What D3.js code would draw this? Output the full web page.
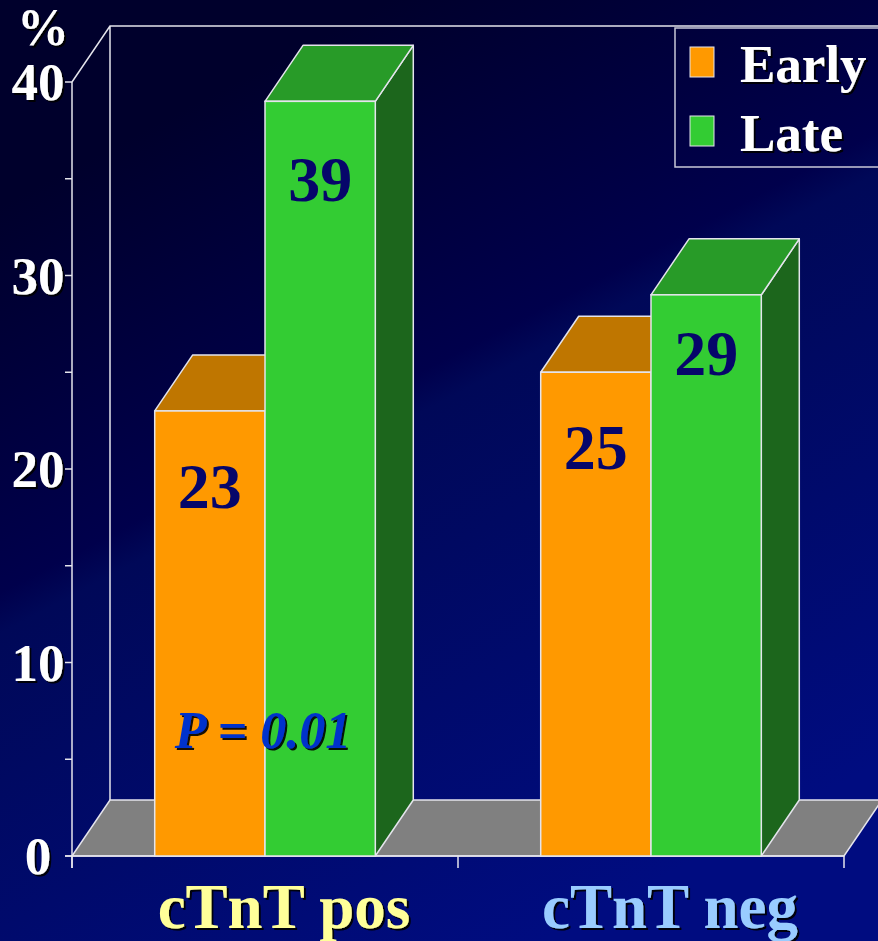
<!DOCTYPE html>
<html>
<head>
<meta charset="utf-8">
<script src="https://cdn.jsdelivr.net/npm/d3@7"></script>
<style>
  html, body { margin: 0; padding: 0; background: #000033; }
  svg { display: block; }
</style>
</head>
<body>
<svg id="chart"></svg>
<script>
// data
const categories = ["cTnT pos", "cTnT neg"];
const series = ["Early", "Late"];
const early_values = [23, 25];
const late_values = [39, 29];
const y_ticks = [0, 10, 20, 30, 40];
const p_label = "P = 0.01";

// style
const width = 878, height = 941;
const font = "'Liberation Serif', 'Times New Roman', serif";
const front_colors = { Early: "#FF9900", Late: "#33CC33" };
const top_colors = { Early: "#BF7600", Late: "#289B28" };
const side_colors = { Early: "#8A5500", Late: "#1C661C" };
const cat_colors = ["#FFFF99", "#99CCFF"];
const edge = "#E4E4EC";
const depth = { dx: 38, dy: -56 };
const label_drop = [[97, 100], [97, 80]];

const svg = d3.select("#chart")
    .attr("width", width)
    .attr("height", height);

const defs = svg.append("defs");
const grad = defs.append("linearGradient")
    .attr("id", "bg")
    .attr("gradientUnits", "userSpaceOnUse")
    .attr("x1", 200).attr("y1", 100)
    .attr("x2", 620).attr("y2", 900);
[[0, "#00002C"], [0.38, "#00004C"], [0.42, "#000858"], [1, "#000C80"]].forEach(s => {
    grad.append("stop").attr("offset", s[0]).attr("stop-color", s[1]);
});
const shadow = defs.append("filter").attr("id", "shadow")
    .attr("x", "-10%").attr("y", "-10%").attr("width", "130%").attr("height", "130%");
shadow.append("feDropShadow")
    .attr("dx", 2).attr("dy", 2).attr("stdDeviation", 0.6)
    .attr("flood-color", "#000000").attr("flood-opacity", 0.9);

svg.append("rect")
    .attr("width", width).attr("height", height)
    .attr("fill", "url(#bg)");

// scales
const y = d3.scaleLinear().domain([0, 40]).range([856, 82]);
const x = d3.scaleBand().domain(categories).range([72, 844]).padding(0);
const xs = d3.scaleBand().domain(series).range([0, x.bandwidth()])
    .paddingInner(0).paddingOuter(0.75);

const y0 = y(0), yTop = y(40);
const xL = x.range()[0], xR = x.range()[1];

// floor
const pts = p => p.map(q => q.join(",")).join(" ");
svg.append("polygon")
    .attr("points", pts([[xL, y0], [xR, y0], [xR + depth.dx, y0 + depth.dy], [xL + depth.dx, y0 + depth.dy]]))
    .attr("fill", "#808080")
    .attr("stroke", edge)
    .attr("stroke-width", 1.5);

// walls
svg.append("path")
    .attr("d", `M${xL},${yTop} L${xL + depth.dx},${yTop + depth.dy} L${xR + depth.dx},${yTop + depth.dy}
                M${xL + depth.dx},${yTop + depth.dy} L${xL + depth.dx},${y0 + depth.dy}`)
    .attr("fill", "none")
    .attr("stroke", edge)
    .attr("stroke-width", 1.5);

// y axis
svg.append("line")
    .attr("x1", xL).attr("x2", xL)
    .attr("y1", yTop).attr("y2", y0 + 12)
    .attr("stroke", edge).attr("stroke-width", 1.5);
svg.append("line")
    .attr("x1", xL - 7).attr("x2", xR)
    .attr("y1", y0).attr("y2", y0)
    .attr("stroke", edge).attr("stroke-width", 1.5);
svg.append("g").selectAll("line")
    .data(d3.range(0, 41, 5))
    .enter().append("line")
    .attr("x1", xL - 7).attr("x2", xL)
    .attr("y1", d => y(d)).attr("y2", d => y(d))
    .attr("stroke", edge).attr("stroke-width", 1.5);
svg.append("g").selectAll("line")
    .data([xL, x(categories[1]), xR])
    .enter().append("line")
    .attr("x1", d => d).attr("x2", d => d)
    .attr("y1", y0).attr("y2", y0 + 12)
    .attr("stroke", edge).attr("stroke-width", 1.5);

svg.append("g").selectAll("text")
    .data(y_ticks)
    .enter().append("text")
    .attr("x", 38)
    .attr("y", d => y(d) + 18)
    .attr("text-anchor", "middle")
    .attr("font-family", font)
    .attr("font-weight", "bold")
    .attr("font-size", 53)
    .attr("fill", "#FFFFFF")
    .attr("filter", "url(#shadow)")
    .text(d => d);

svg.append("text")
    .attr("x", 43).attr("y", 45)
    .attr("text-anchor", "middle")
    .attr("font-family", font)
    .attr("font-weight", "bold")
    .attr("font-size", 52)
    .attr("fill", "#FFFFFF")
    .attr("filter", "url(#shadow)")
    .text("%");

// bars
const bars = [];
categories.forEach((c, i) => {
    bars.push({ cat: c, ser: "Early", value: early_values[i], gi: i, si: 0 });
    bars.push({ cat: c, ser: "Late", value: late_values[i], gi: i, si: 1 });
});

const bar = svg.append("g").selectAll("g")
    .data(bars)
    .enter().append("g");

bar.append("polygon")
    .attr("points", d => {
        const a = x(d.cat) + xs(d.ser), w = xs.bandwidth(), t = y(d.value);
        return pts([[a + w, t], [a + w + depth.dx, t + depth.dy], [a + w + depth.dx, y0 + depth.dy], [a + w, y0]]);
    })
    .attr("fill", d => side_colors[d.ser])
    .attr("stroke", edge).attr("stroke-width", 1.5).attr("stroke-linejoin", "round");

bar.append("polygon")
    .attr("points", d => {
        const a = x(d.cat) + xs(d.ser), w = xs.bandwidth(), t = y(d.value);
        return pts([[a, t], [a + w, t], [a + w + depth.dx, t + depth.dy], [a + depth.dx, t + depth.dy]]);
    })
    .attr("fill", d => top_colors[d.ser])
    .attr("stroke", edge).attr("stroke-width", 1.5).attr("stroke-linejoin", "round");

bar.append("rect")
    .attr("x", d => x(d.cat) + xs(d.ser))
    .attr("y", d => y(d.value))
    .attr("width", xs.bandwidth())
    .attr("height", d => y0 - y(d.value))
    .attr("fill", d => front_colors[d.ser])
    .attr("stroke", edge).attr("stroke-width", 1.5);

bar.append("text")
    .attr("x", d => x(d.cat) + xs(d.ser) + xs.bandwidth() / 2)
    .attr("y", d => y(d.value) + label_drop[d.gi][d.si])
    .attr("text-anchor", "middle")
    .attr("font-family", font)
    .attr("font-weight", "bold")
    .attr("font-size", 64)
    .attr("fill", "#06066A")
    .text(d => d.value);

// p value
svg.append("text")
    .attr("x", x(categories[0]) + x.bandwidth() / 2 - 2)
    .attr("y", y(5.6))
    .attr("text-anchor", "middle")
    .attr("font-family", font)
    .attr("font-weight", "bold")
    .attr("font-style", "italic")
    .attr("font-size", 52)
    .attr("fill", "#0033CC")
    .attr("filter", "url(#shadow)")
    .text(p_label);

// category labels
svg.append("g").selectAll("text")
    .data(categories)
    .enter().append("text")
    .attr("x", d => x(d) + x.bandwidth() / 2 + depth.dx / 2)
    .attr("y", 928)
    .attr("text-anchor", "middle")
    .attr("font-family", font)
    .attr("font-weight", "bold")
    .attr("font-size", 63)
    .attr("fill", (d, i) => cat_colors[i])
    .attr("filter", "url(#shadow)")
    .text(d => d);

// legend
const legend = svg.append("g");
legend.append("rect")
    .attr("x", 675).attr("y", 28)
    .attr("width", 220).attr("height", 139)
    .attr("fill", "none")
    .attr("stroke", "#C8C8D8").attr("stroke-width", 1.5);
const item = legend.selectAll("g.item")
    .data(series)
    .enter().append("g")
    .attr("class", "item")
    .attr("transform", (d, i) => `translate(0, ${i * 69})`);
item.append("rect")
    .attr("x", 690).attr("y", 47)
    .attr("width", 24).attr("height", 30)
    .attr("fill", d => front_colors[d])
    .attr("stroke", edge).attr("stroke-width", 1);
item.append("text")
    .attr("x", 740).attr("y", 82)
    .attr("font-family", font)
    .attr("font-weight", "bold")
    .attr("font-size", 53)
    .attr("fill", "#FFFFFF")
    .attr("filter", "url(#shadow)")
    .text(d => d);
</script>
</body>
</html>
